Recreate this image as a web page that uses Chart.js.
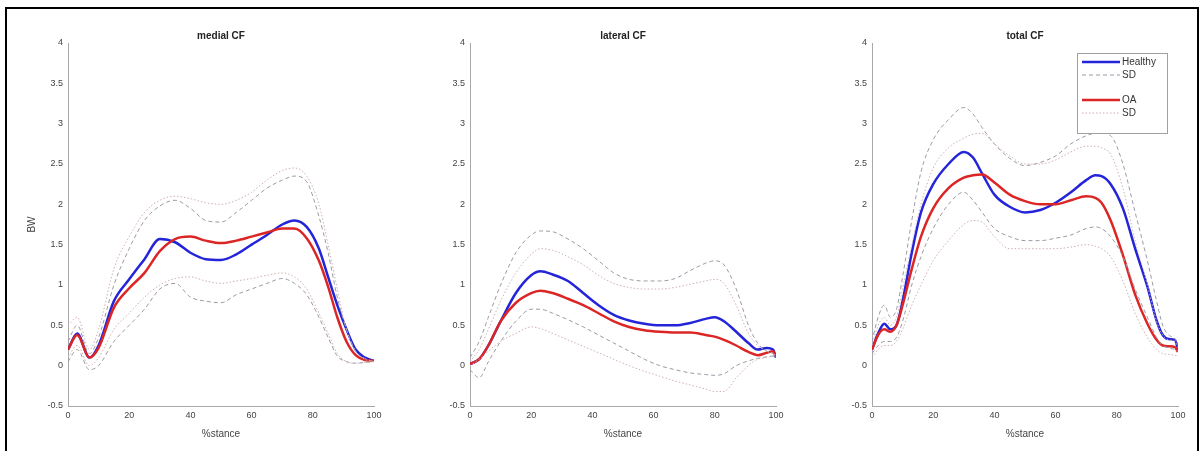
<!DOCTYPE html>
<html>
<head>
<meta charset="utf-8">
<script src="https://cdn.jsdelivr.net/npm/chart.js@4.4.1/dist/chart.umd.min.js"></script>
<style>
  html, body { margin: 0; padding: 0; background: #fff; overflow: hidden; }
  #wrap { position: relative; width: 1202px; height: 451px; }
  #frame { position: absolute; left: 5px; top: 7px; width: 1190px; height: 470px; border: 2px solid #000; }
  canvas { position: absolute; }
</style>
</head>
<body>
<div id="wrap">
  <div id="frame"></div>
  <canvas id="medial-chart"></canvas>
  <canvas id="lateral-chart"></canvas>
  <canvas id="total-chart"></canvas>
</div>
<script>
// y ticks (BW) and x ticks (%stance)
const yTicks = [-0.5, 0, 0.5, 1, 1.5, 2, 2.5, 3, 3.5, 4];
const xTicks = [0, 20, 40, 60, 80, 100];

// medial CF
const medialX = [0, 3, 7, 10, 15, 20, 25, 30, 35, 40, 45, 50, 55, 60, 65, 70, 74, 78, 82, 85, 88, 91, 94, 97, 100];
const medialHealthy = [0.2, 0.4, 0.1, 0.25, 0.8, 1.07, 1.32, 1.57, 1.53, 1.4, 1.32, 1.31, 1.38, 1.5, 1.62, 1.75, 1.8, 1.72, 1.45, 1.1, 0.75, 0.45, 0.2, 0.1, 0.06];
const medialOA = [0.2, 0.38, 0.1, 0.22, 0.72, 0.96, 1.15, 1.42, 1.57, 1.6, 1.55, 1.52, 1.55, 1.6, 1.65, 1.7, 1.7, 1.58, 1.3, 0.98, 0.6, 0.3, 0.13, 0.07, 0.06];
const medialHealthyUp = [0.3, 0.5, 0.15, 0.35, 1.0, 1.45, 1.8, 1.98, 2.05, 1.95, 1.8, 1.78, 1.9, 2.05, 2.2, 2.3, 2.35, 2.28, 1.85, 1.4, 0.85, 0.45, 0.18, 0.09, 0.05];
const medialHealthyLo = [0.05, 0.2, -0.05, 0.0, 0.3, 0.5, 0.7, 0.95, 1.02, 0.85, 0.8, 0.78, 0.88, 0.95, 1.02, 1.08, 1.02, 0.88, 0.6, 0.35, 0.12, 0.05, 0.03, 0.04, 0.05];
const medialOAUp = [0.5, 0.6, 0.2, 0.45, 1.2, 1.6, 1.9, 2.05, 2.1, 2.07, 2.02, 2.0, 2.05, 2.15, 2.3, 2.42, 2.45, 2.35, 2.0, 1.5, 0.95, 0.45, 0.18, 0.08, 0.05];
const medialOALo = [0.1, 0.25, 0.0, 0.1, 0.45, 0.65, 0.85, 1.0, 1.08, 1.1, 1.05, 1.02, 1.05, 1.08, 1.12, 1.15, 1.1, 0.95, 0.65, 0.4, 0.15, 0.05, 0.03, 0.04, 0.05];

// lateral CF
const lateralX = [0, 3, 6, 10, 15, 20, 23, 27, 32, 37, 42, 47, 52, 57, 62, 67, 72, 77, 80, 83, 87, 91, 94, 97, 99, 100];
const lateralHealthy = [0.02, 0.08, 0.25, 0.55, 0.9, 1.12, 1.17, 1.13, 1.05, 0.9, 0.75, 0.63, 0.56, 0.52, 0.5, 0.5, 0.53, 0.58, 0.6, 0.55, 0.42, 0.28, 0.2, 0.22, 0.2, 0.1];
const lateralOA = [0.02, 0.08, 0.25, 0.55, 0.78, 0.9, 0.93, 0.9, 0.83, 0.75, 0.65, 0.55, 0.48, 0.44, 0.42, 0.41, 0.41, 0.38, 0.36, 0.32, 0.25, 0.17, 0.13, 0.16, 0.18, 0.12];
const lateralHealthyUp = [0.1, 0.3, 0.6, 1.0, 1.4, 1.62, 1.67, 1.66, 1.57, 1.45, 1.3, 1.15, 1.07, 1.05, 1.05, 1.08, 1.18, 1.27, 1.3, 1.25, 0.95, 0.5, 0.28, 0.18, 0.15, 0.12];
const lateralHealthyLo = [-0.05, -0.15, 0.05, 0.3, 0.55, 0.7, 0.7, 0.65, 0.57, 0.48, 0.38, 0.28, 0.18, 0.08, 0.0, -0.05, -0.09, -0.11, -0.12, -0.1, 0.0, 0.06, 0.09, 0.11, 0.12, 0.12];
const lateralOAUp = [0.05, 0.2, 0.45, 0.8, 1.15, 1.38, 1.45, 1.43, 1.35, 1.25, 1.12, 1.02, 0.97, 0.95, 0.95, 0.97, 1.01, 1.05, 1.07, 1.02, 0.75, 0.4, 0.25, 0.18, 0.15, 0.12];
const lateralOALo = [0.0, 0.08, 0.18, 0.3, 0.4, 0.48, 0.46, 0.4, 0.32, 0.24, 0.16, 0.08, 0.0, -0.07, -0.13, -0.19, -0.24, -0.29, -0.32, -0.32, -0.15, 0.0, 0.08, 0.1, 0.12, 0.12];

// total CF
const totalX = [0, 2, 4, 6, 8, 10, 13, 16, 20, 25, 30, 33, 36, 40, 45, 50, 55, 60, 65, 70, 73, 75, 78, 82, 86, 90, 93, 95, 97, 99, 100];
const totalHealthy = [0.2, 0.4, 0.52, 0.45, 0.5, 0.8, 1.4, 1.9, 2.25, 2.5, 2.65, 2.58, 2.38, 2.12, 1.97, 1.9, 1.93, 2.02, 2.15, 2.3, 2.36, 2.35, 2.25, 1.95, 1.45, 0.98, 0.56, 0.38, 0.33, 0.32, 0.2];
const totalOA = [0.2, 0.38, 0.45, 0.42, 0.5, 0.75, 1.2, 1.6, 1.95, 2.2, 2.33, 2.36, 2.37, 2.27, 2.12, 2.04, 2.0, 2.0, 2.05, 2.1, 2.08, 2.02, 1.8, 1.37, 0.88, 0.52, 0.32, 0.25, 0.24, 0.23, 0.17];
const totalHealthyUp = [0.3, 0.6, 0.75, 0.6, 0.7, 1.1, 1.8, 2.4, 2.8, 3.05, 3.2, 3.12, 2.95, 2.75, 2.57, 2.48, 2.52, 2.6, 2.75, 2.85, 2.88, 2.88, 2.85, 2.5, 1.9, 1.3, 0.8, 0.5, 0.38, 0.33, 0.25];
const totalHealthyLo = [0.15, 0.25, 0.3, 0.3, 0.35, 0.55, 1.0, 1.35, 1.7, 2.0, 2.15, 2.05, 1.9, 1.7, 1.6, 1.55, 1.55, 1.58, 1.62, 1.7, 1.72, 1.7, 1.6, 1.35, 0.95, 0.6, 0.35, 0.25, 0.22, 0.2, 0.18];
const totalOAUp = [0.25, 0.5, 0.6, 0.5, 0.6, 0.95, 1.5, 2.0, 2.45, 2.7, 2.82, 2.87, 2.88, 2.75, 2.6, 2.5, 2.5, 2.55, 2.65, 2.72, 2.72, 2.7, 2.62, 2.2, 1.55, 1.0, 0.55, 0.38, 0.32, 0.3, 0.22];
const totalOALo = [0.1, 0.2, 0.25, 0.25, 0.3, 0.45, 0.75, 1.0, 1.3, 1.55, 1.75, 1.8, 1.78, 1.6, 1.45, 1.45, 1.45, 1.45, 1.47, 1.5, 1.48, 1.45, 1.35, 1.05, 0.65, 0.35, 0.2, 0.15, 0.14, 0.13, 0.12];

// legend labels, in order shown
const legendLabels = ['Healthy', 'SD', 'OA', 'SD'];

const FONT = "'Liberation Sans', Arial, sans-serif";
const BLUE = '#2424d8';
const RED = '#dc2626';
const SD_H = '#9a9aa6';
const SD_OA = '#d0aeb0';

function pts(xs, ys) {
    return xs.map((x, i) => ({ x: x, y: ys[i] }));
}

function line(xs, ys, color, width, dash) {
    return {
        data: pts(xs, ys),
        borderColor: color,
        borderWidth: width,
        borderDash: dash,
        pointRadius: 0,
        fill: false,
        cubicInterpolationMode: 'monotone'
    };
}

// legend drawn inside the plot area, like the matlab one
const legendBox = {
    id: 'legendBox',
    afterDraw(chart) {
        const ctx = chart.ctx;
        const a = chart.chartArea;
        const bx = a.left + 205, by = a.top + 10, bw = 90, bh = 80;
        ctx.save();
        ctx.fillStyle = '#fff';
        ctx.fillRect(bx, by, bw, bh);
        ctx.strokeStyle = '#a0a0a0';
        ctx.lineWidth = 1;
        ctx.strokeRect(bx + 0.5, by + 0.5, bw, bh);
        const rows = [9, 22, 47, 60];
        // datasets: 0 oaUp, 2 hUp, 4 oa, 5 healthy
        const src = [5, 2, 4, 0];
        legendLabels.forEach((label, i) => {
            const d = chart.data.datasets[src[i]];
            const y = by + rows[i];
            ctx.strokeStyle = d.borderColor;
            ctx.lineWidth = d.borderWidth;
            ctx.setLineDash(d.borderDash || []);
            ctx.beginPath();
            ctx.moveTo(bx + 5, y);
            ctx.lineTo(bx + 43, y);
            ctx.stroke();
            ctx.setLineDash([]);
            ctx.fillStyle = '#333';
            ctx.font = '10px ' + FONT;
            ctx.textBaseline = 'middle';
            ctx.fillText(label, bx + 45, y);
        });
        ctx.restore();
    }
};

// plotLeft = pixel x of the y axis line in the page
function makePanel(id, plotLeft, yWidth, title, xs, h, oa, hUp, hLo, oaUp, oaLo, withLegend) {
    const canvas = document.getElementById(id);
    const w = yWidth + 306 + 14;
    const hgt = 410;
    canvas.style.left = (plotLeft - yWidth) + 'px';
    canvas.style.top = '30px';
    canvas.width = w;
    canvas.height = hgt;
    canvas.style.width = w + 'px';
    canvas.style.height = hgt + 'px';

    const datasets = [
        line(xs, oaUp, SD_OA, 1, [1.5, 2]),
        line(xs, oaLo, SD_OA, 1, [1.5, 2]),
        line(xs, hUp, SD_H, 1, [4, 3]),
        line(xs, hLo, SD_H, 1, [4, 3]),
        line(xs, oa, RED, 2.5, []),
        line(xs, h, BLUE, 2.5, [])
    ];

    return new Chart(canvas.getContext('2d'), {
        type: 'line',
        data: { datasets: datasets },
        plugins: withLegend ? [legendBox] : [],
        options: {
            responsive: false,
            animation: false,
            layout: { padding: { left: 0, right: 14, top: 0, bottom: 0 } },
            plugins: {
                legend: { display: false },
                tooltip: { enabled: false }
            },
            scales: {
                // empty top axis, only used to hold the panel title over the plot
                top: {
                    type: 'linear',
                    position: 'top',
                    min: 0,
                    max: 100,
                    afterFit: s => { s.height = 13; },
                    grid: { display: false, drawTicks: false },
                    border: { display: false },
                    ticks: { display: false },
                    title: { display: true, text: title, color: '#222', padding: 0, font: { family: FONT, size: 10, weight: 'bold' } }
                },
                x: {
                    type: 'linear',
                    min: 0,
                    max: 100,
                    afterBuildTicks: s => { s.ticks = xTicks.map(v => ({ value: v })); },
                    afterFit: s => { s.height = 34; },
                    grid: { display: false, drawTicks: false },
                    border: { color: '#a8a8a8', width: 1 },
                    ticks: { color: '#444', padding: 4, font: { family: FONT, size: 9 } },
                    title: { display: true, text: '%stance', color: '#444', padding: 0, font: { family: FONT, size: 10 } }
                },
                y: {
                    min: -0.5,
                    max: 4,
                    afterBuildTicks: s => { s.ticks = yTicks.map(v => ({ value: v })); },
                    afterFit: s => { s.width = yWidth; },
                    grid: { display: false, drawTicks: false },
                    border: { color: '#a8a8a8', width: 1 },
                    ticks: { color: '#444', padding: 5, font: { family: FONT, size: 9 }, callback: v => String(v) },
                    title: { display: id === 'medial-chart', text: 'BW', color: '#444', padding: 0, font: { family: FONT, size: 10 } }
                }
            }
        }
    });
}

window.onload = function () {
    makePanel('medial-chart', 68, 42, 'medial CF', medialX, medialHealthy, medialOA,
        medialHealthyUp, medialHealthyLo, medialOAUp, medialOALo, false);
    makePanel('lateral-chart', 470, 30, 'lateral CF', lateralX, lateralHealthy, lateralOA,
        lateralHealthyUp, lateralHealthyLo, lateralOAUp, lateralOALo, false);
    makePanel('total-chart', 872, 30, 'total CF', totalX, totalHealthy, totalOA,
        totalHealthyUp, totalHealthyLo, totalOAUp, totalOALo, true);
};
</script>
</body>
</html>
